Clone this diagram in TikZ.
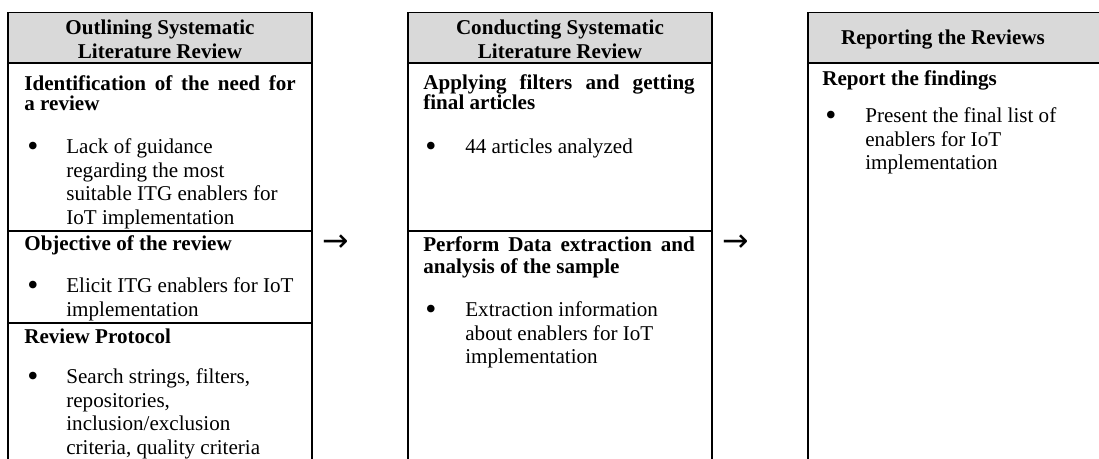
\documentclass[tikz,border=0pt]{standalone}
\usepackage{fontspec}
\setmainfont{Liberation Serif}
\newfontfamily\arrowfont{DejaVu Sans}
\usetikzlibrary{positioning,calc}
\definecolor{hdrGray}{HTML}{D9D9D9}

\begin{document}
\begin{tikzpicture}[x=0.02cm,y=-0.02cm,
  every node/.style={inner sep=0pt,font=\fontsize{12}{13.4}\selectfont},
  cell/.style={draw,line width=1.1pt,outer sep=0pt,anchor=north west,minimum width=6.08cm},
  hcell/.style={cell,fill=hdrGray,minimum height=1.01cm},
  head/.style={align=center,font=\fontsize{12}{13.6}\selectfont\bfseries},
  ttl/.style={anchor=north west,text width=5.43cm,align=justify,font=\fontsize{12}{#1}\selectfont\bfseries},
  ttl/.default=11.4,
  item/.style={anchor=north west,align=left},
  dot/.style={anchor=base,yshift=-2pt,font=\fontsize{18}{18}\selectfont},
  arr/.style={font=\fontsize{18}{18}\arrowfont}
]
  \useasboundingbox (0,0) rectangle (1099,459);
  \clip (0,0) rectangle (1099,459);
  % columns
  \node[hcell] (h1) at (8,12.5) {};
  \node[cell,minimum height=3.36cm,below=0pt of h1] (s11) {};
  \node[cell,minimum height=1.84cm,below=0pt of s11] (s12) {};
  \node[cell,minimum height=3.54cm,below=0pt of s12] (s13) {};
  \node[hcell] (h2) at (408,12.5) {};
  \node[cell,minimum height=3.36cm,below=0pt of h2] (s21) {};
  \node[cell,minimum height=5.38cm,below=0pt of s21] (s22) {};
  \node[hcell] (h3) at (808,12.5) {};
  \node[cell,minimum height=8.74cm,below=0pt of h3] (s31) {};
  % headers
  \node[head] (h1t) at ([yshift=-1pt]h1.center) {Outlining Systematic\\Literature Review};
  \node[head] (h2t) at ([yshift=-1pt]h2.center) {Conducting Systematic\\Literature Review};
  \node[head,anchor=base] (h3t) at (943,44.5) {Reporting the Reviews};
  % outlining
  \node[ttl] (t11) at (24,75.5) {Identification of the need for\linebreak a review};
  \node[dot] (d11) at (33,153) {•};
  \node[item] (i11) at (66,138.5) {Lack of guidance\\regarding the most\\suitable ITG enablers for\\IoT implementation};
  \node[ttl] (t12) at (24,235.5) {Objective of the review};
  \node[dot] (d12) at (33,292) {•};
  \node[item] (i12) at (66,277.5) {Elicit ITG enablers for IoT\\implementation};
  \node[ttl] (t13) at (24,328.5) {Review Protocol};
  \node[dot] (d13) at (33,383) {•};
  \node[item] (i13) at (66,368.5) {Search strings, filters,\\repositories,\\inclusion/exclusion\\criteria, quality criteria};
  % conducting
  \node[ttl] (t21) at (423,74.5) {Applying filters and getting\linebreak final articles};
  \node[dot] (d21) at (431,153) {•};
  \node[item] (i21) at (465,138.5) {44 articles analyzed};
  \node[ttl=12.6] (t22) at (423,236) {Perform Data extraction and\linebreak analysis of the sample};
  \node[dot] (d22) at (431,316) {•};
  \node[item] (i22) at (465,301.5) {Extraction information\\about enablers for IoT\\implementation};
  % reporting
  \node[ttl] (t31) at (822,70.5) {Report the findings};
  \node[dot] (d31) at (831,122) {•};
  \node[item] (i31) at (865,107.5) {Present the final list of\\enablers for IoT\\implementation};
  % arrows between phases
  \node[arr] (a1) at (336,243) {→};
  \node[arr] (a2) at (736,243) {→};
\end{tikzpicture}
\end{document}
